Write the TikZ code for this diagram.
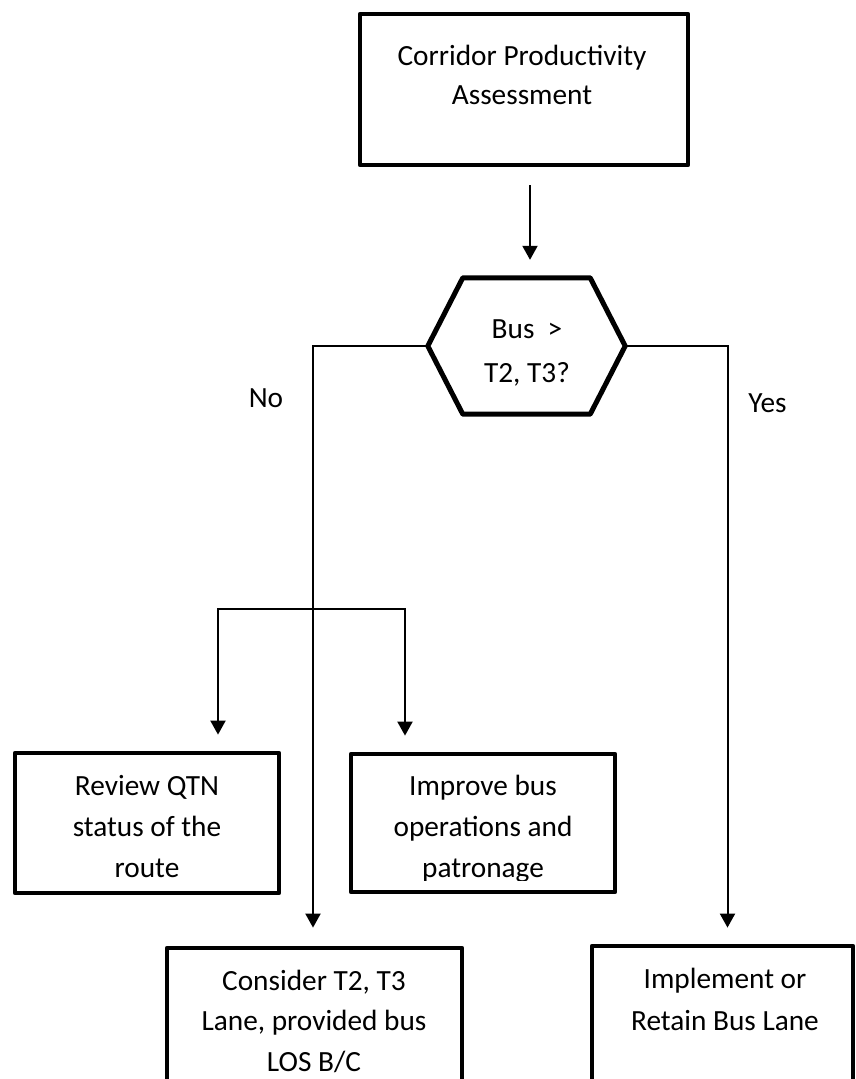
\documentclass[tikz,border=0pt]{standalone}
\usepackage{fontspec}
\setmainfont{Carlito}
\usetikzlibrary{arrows.meta,calc}
\begin{document}
\begin{tikzpicture}[x=1pt,y=-1pt,
  box/.style={draw, rectangle, line width=4.8pt, line join=round, inner sep=0pt},
  hexline/.style={line width=5pt, line join=round},
  txt/.style={align=center, anchor=base, inner sep=0pt, font=\fontsize{29.3}{41}\selectfont},
  conn/.style={line width=2pt},
  arr/.style={conn, -{Triangle[length=14pt,width=15pt]}},
]
\useasboundingbox (0,0) rectangle (856,1079);
\clip (0,0) rectangle (856,1079);

% start box (text nodes are anchored at the baseline of their last line)
\node[box, minimum width=328pt, minimum height=151pt] (top) at (524,89.5) {};
\node[txt, font=\fontsize{29.3}{39}\selectfont] (toptext) at (522,104) {Corridor Productivity\\Assessment};

% decision hexagon
\node[minimum width=197pt, minimum height=136pt, inner sep=0pt] (hex) at (526.5,346) {};
\draw[hexline] (hex.west) -- ($(hex.north west)+(35,0)$) -- ($(hex.north east)+(-35,0)$)
  -- (hex.east) -- ($(hex.south east)+(-35,0)$) -- ($(hex.south west)+(35,0)$) -- cycle;
\node[txt, font=\fontsize{29.3}{44}\selectfont] (hextext) at (527,382.5) {Bus~ >\\T2, T3?};

% outcome boxes
\node[box, minimum width=264pt, minimum height=140pt] (review) at (147,823) {};
\node[txt] (reviewtext) at (147,877) {Review QTN\\status of the\\route};

\node[box, minimum width=264pt, minimum height=138pt] (improve) at (483,823) {};
\begin{scope}
  \clip (351,750) rectangle (615,880);
  \node[txt] (improvetext) at (483,877) {Improve bus\\operations and\\patronage};
\end{scope}

\node[box, minimum width=295pt, minimum height=200pt] (consider) at (314.5,1048) {};
\node[txt, font=\fontsize{29.3}{40.5}\selectfont] (considertext) at (314,1071) {Consider T2, T3\\Lane, provided bus\\LOS B/C};

\node[box, minimum width=261pt, minimum height=200pt] (impl) at (722.5,1046) {};
\node[txt, font=\fontsize{29.3}{42}\selectfont] (impltext) at (725,1030) {Implement or\\Retain Bus Lane};

% branch labels
\node[txt] (no) at (266,407) {No};
\node[txt] (yes) at (767.5,412) {Yes};

% connectors
\coordinate (topout) at ($(top.south)+(6,0)$);
\draw[arr, shorten <=18pt, shorten >=18pt] (topout) -- (topout |- hex.north);

\draw[arr, shorten >=18pt] (hex.west) -| ($(consider.north)+(-1.5,0)$);
\draw[arr, shorten >=16pt] (hex.east) -| ($(impl.north)+(5,0)$);

\coordinate (bl) at (218,609);
\coordinate (br) at (405,609);
\draw[arr, shorten >=16pt] (br) -- (bl) -- (bl |- review.north);
\draw[arr, shorten >=16pt] (bl) -- (br) -- (br |- improve.north);
\end{tikzpicture}
\end{document}
